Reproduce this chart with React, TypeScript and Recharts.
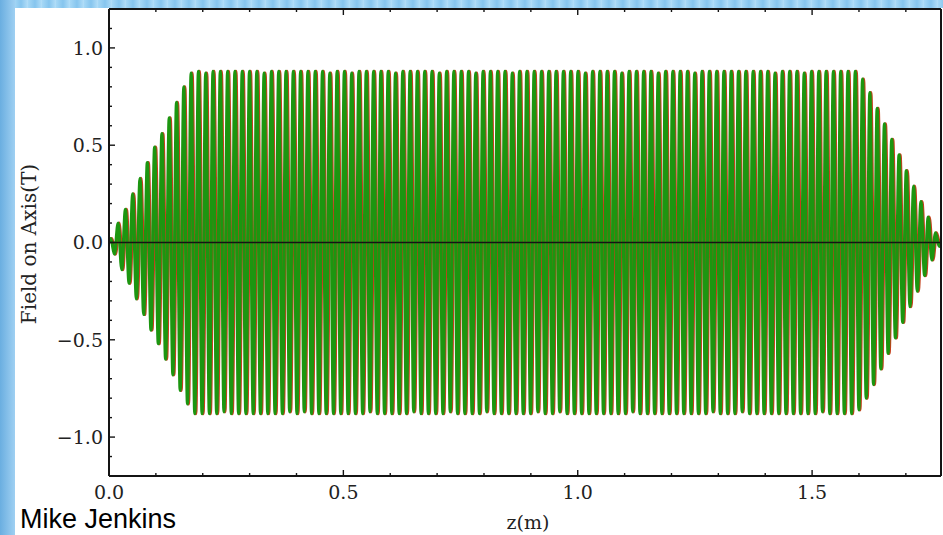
import { LineChart, Line, XAxis, YAxis, ReferenceLine } from 'recharts'

// Undulator on-axis field, read peak by peak off the plot (T)
const leftRamp = [
  0.02, -0.06, 0.10, -0.14, 0.17, -0.21, 0.25, -0.29, 0.33, -0.37, 0.41, -0.45,
  0.49, -0.52, 0.56, -0.60, 0.64, -0.68, 0.72, -0.76, 0.80, -0.83, 0.87,
]
const flatTop = [
  -0.88, 0.88, -0.88, 0.87, -0.88, 0.88, -0.88, 0.88, -0.87, 0.88, -0.88, 0.88, -0.88, 0.88,
  -0.88, 0.88, -0.88, 0.88, -0.88, 0.87, -0.88, 0.88, -0.88, 0.88, -0.88, 0.88, -0.87, 0.88,
  -0.88, 0.88, -0.87, 0.88, -0.88, 0.88, -0.88, 0.88, -0.88, 0.87, -0.88, 0.88, -0.88, 0.88,
  -0.88, 0.87, -0.88, 0.88, -0.88, 0.88, -0.87, 0.88, -0.88, 0.88, -0.88, 0.88, -0.88, 0.87,
  -0.88, 0.88, -0.88, 0.88, -0.87, 0.88, -0.88, 0.88, -0.88, 0.88, -0.88, 0.87, -0.88, 0.88,
  -0.87, 0.88, -0.88, 0.88, -0.88, 0.88, -0.88, 0.87, -0.88, 0.88, -0.87, 0.88, -0.88, 0.88,
  -0.88, 0.88, -0.88, 0.87, -0.88, 0.88, -0.88, 0.88, -0.88, 0.88, -0.87, 0.88, -0.88, 0.88,
  -0.88, 0.88, -0.87, 0.88, -0.88, 0.88, -0.88, 0.88, -0.88, 0.87, -0.88, 0.88, -0.88, 0.88,
  -0.88, 0.88, -0.88, 0.88, -0.88, 0.87, -0.88, 0.88, -0.87, 0.88, -0.88, 0.88, -0.88, 0.88,
  -0.88, 0.87, -0.88, 0.88, -0.88, 0.88, -0.88, 0.88, -0.88, 0.88, -0.88, 0.87, -0.88, 0.88,
  -0.88, 0.88, -0.87, 0.88, -0.88, 0.88, -0.88, 0.88, -0.88, 0.88, -0.87, 0.88, -0.88, 0.88,
  -0.88, 0.88, -0.88, 0.88, -0.88, 0.87, -0.88, 0.88, -0.88, 0.88, -0.88, 0.88, -0.88, 0.87,
  -0.88, 0.88, -0.88, 0.88, -0.87, 0.88, -0.88, 0.88, -0.88, 0.88, -0.88, 0.88, -0.88, 0.88,
]
const rightRamp = [
  -0.86, 0.84, -0.80, 0.77, -0.73, 0.69, -0.65, 0.61, -0.57, 0.53, -0.49, 0.45,
  -0.41, 0.37, -0.33, 0.29, -0.25, 0.21, -0.17, 0.13, -0.09, 0.05, -0.02,
]

const undulatorLength = 1.775 // m, plot runs from 0 to the end of the device
const measuredShift = 0.0022 // red trace sits a hair downstream of the green one

const xTicks = [0, 0.1, 0.2, 0.3, 0.4, 0.5, 0.6, 0.7, 0.8, 0.9, 1.0, 1.1, 1.2, 1.3, 1.4, 1.5, 1.6, 1.7]
const yTicks = [-1.1, -1.0, -0.9, -0.8, -0.7, -0.6, -0.5, -0.4, -0.3, -0.2, -0.1, 0,
  0.1, 0.2, 0.3, 0.4, 0.5, 0.6, 0.7, 0.8, 0.9, 1.0, 1.1]

const peaks = [...leftRamp, ...flatTop, ...rightRamp]

function buildRows(shift: number) {
  const step = undulatorLength / peaks.length
  const rows = [{ z: 0, field: 0 }]
  peaks.forEach((b, i) => rows.push({ z: (i + 0.5) * step + shift, field: b }))
  rows.push({ z: undulatorLength, field: 0 })
  return rows
}

const modelRows = buildRows(0)
const measuredRows = buildRows(measuredShift)

const INK = '#141414'
const SERIF = '"DejaVu Serif", serif'
const isMajor = (v: number) => Math.abs(v * 2 - Math.round(v * 2)) < 1e-6
const fmt = (v: number) => (v < 0 ? '\u2212' : '') + Math.abs(v).toFixed(1)

const LEFT_GAP = 6
const BOTTOM_GAP = 10

function LeftTick(props: any) {
  const { x, y, payload } = props
  const v = payload.value
  const ax = x + LEFT_GAP
  return (
    <g>
      <line x1={ax} x2={ax + (isMajor(v) ? 6 : 3)} y1={y} y2={y} stroke={INK} strokeWidth={1.4} />
      {isMajor(v) && (
        <text x={x} y={y} dy="0.36em" textAnchor="end" fontSize={19} fontFamily={SERIF} fill="#222">
          {fmt(v)}
        </text>
      )}
    </g>
  )
}

function BottomTick(props: any) {
  const { x, y, payload } = props
  const v = payload.value
  const ay = y - BOTTOM_GAP
  return (
    <g>
      <line x1={x} x2={x} y1={ay} y2={ay - (isMajor(v) ? 6 : 3)} stroke={INK} strokeWidth={1.4} />
      {isMajor(v) && (
        <text x={x} y={y} dy="0.71em" textAnchor="middle" fontSize={19} fontFamily={SERIF} fill="#222">
          {fmt(v)}
        </text>
      )}
    </g>
  )
}

function TopTick(props: any) {
  const { x, y, payload } = props
  return <line x1={x} x2={x} y1={y} y2={y + (isMajor(payload.value) ? 6 : 3)} stroke={INK} strokeWidth={1.4} />
}

function RightTick(props: any) {
  const { x, y, payload } = props
  return <line x1={x} x2={x - (isMajor(payload.value) ? 6 : 3)} y1={y} y2={y} stroke={INK} strokeWidth={1.4} />
}

export default function App() {
  return (
    <div style={{
      position: 'absolute', left: 0, top: 0, width: 943, height: 535, overflow: 'hidden',
      background: 'repeating-linear-gradient(90deg, #a6d8f6 0px, #86c5ee 7px, #b3def8 14px)',
    }}>
      <div style={{
        position: 'absolute', left: 0, top: 0, width: 15, height: 535,
        background: 'linear-gradient(90deg, #6aaee0, #9fd0f2)',
      }} />
      <div style={{ position: 'absolute', left: 15, top: 8, width: 928, height: 527, background: '#fff' }} />
      <div style={{ position: 'absolute', left: 0, top: 0 }}>
        <LineChart width={943} height={535} margin={{ top: 8, right: 1, bottom: 19, left: 9 }}>
          <XAxis
            xAxisId="bottom" type="number" dataKey="z" domain={[0, undulatorLength]} allowDataOverflow
            ticks={xTicks} interval={0} tick={<BottomTick />} tickLine={false} tickSize={0}
            tickMargin={BOTTOM_GAP} height={40} stroke={INK} strokeWidth={2}
          />
          <XAxis
            xAxisId="top" orientation="top" type="number" dataKey="z" domain={[0, undulatorLength]}
            allowDataOverflow ticks={xTicks} interval={0} tick={<TopTick />} tickLine={false}
            tickSize={0} tickMargin={0} height={1} stroke={INK} strokeWidth={2}
          />
          <YAxis
            yAxisId="left" type="number" domain={[-1.2, 1.2]} ticks={yTicks} interval={0}
            tick={<LeftTick />} tickLine={false} tickSize={0} tickMargin={LEFT_GAP} width={100}
            stroke={INK} strokeWidth={2}
          />
          <YAxis
            yAxisId="right" orientation="right" type="number" domain={[-1.2, 1.2]} ticks={yTicks}
            interval={0} tick={<RightTick />} tickLine={false} tickSize={0} tickMargin={0} width={1}
            stroke={INK} strokeWidth={2}
          />
          <Line
            xAxisId="bottom" yAxisId="left" data={measuredRows} dataKey="field" type="monotone"
            stroke="#c4401c" strokeWidth={3.2} dot={false} isAnimationActive={false}
          />
          <Line
            xAxisId="bottom" yAxisId="left" data={modelRows} dataKey="field" type="monotone"
            stroke="#1c9610" strokeWidth={3.2} dot={false} isAnimationActive={false}
          />
          <ReferenceLine xAxisId="bottom" yAxisId="left" y={0} stroke={INK} strokeWidth={1.5} />
        </LineChart>
      </div>
      <div style={{
        position: 'absolute', left: 29, top: 244, transform: 'translate(-50%, -50%) rotate(-90deg)',
        fontFamily: SERIF, fontSize: 20, color: '#222', whiteSpace: 'nowrap',
      }}>
        Field on Axis(T)
      </div>
      <div style={{
        position: 'absolute', left: 528, top: 522, transform: 'translate(-50%, -50%)',
        fontFamily: SERIF, fontSize: 19, lineHeight: '22px', color: '#222', whiteSpace: 'nowrap',
      }}>
        z(m)
      </div>
      <div style={{
        position: 'absolute', left: 20, top: 505, fontFamily: '"Liberation Sans", Arial, sans-serif',
        fontSize: 27, lineHeight: '29px', color: '#000', whiteSpace: 'nowrap',
      }}>
        Mike Jenkins
      </div>
    </div>
  )
}
